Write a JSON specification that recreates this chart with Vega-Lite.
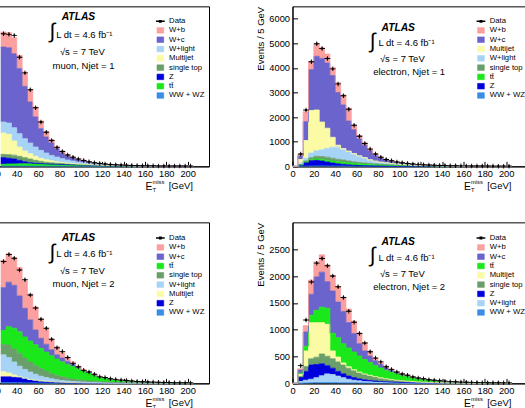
{
  "$schema": "https://vega.github.io/schema/vega-lite/v6.json",
  "usermeta": {"embedOptions": {"actions": false}},
  "background": "white",
  "padding": {"left": -64, "top": 1.35, "right": -2, "bottom": -3},
  "config": {
    "font": "Liberation Sans",
    "view": {"stroke": "black", "strokeWidth": 1},
    "axis": {"labelFont": "Liberation Sans", "labelFontSize": 9.3, "labelColor": "black", "tickColor": "black", "domainColor": "black", "grid": false, "tickSize": -5, "labelPadding": 8, "titleFont": "Liberation Sans", "titleFontSize": 9.5, "titleFontWeight": "normal", "titleColor": "black", "titlePadding": 3.7, "labelOverlap": false, "labelFlush": false, "zindex": 1},
    "legend": {"labelFont": "Liberation Sans", "labelFontSize": 7.7, "labelColor": "black", "symbolSize": 34, "symbolStrokeColor": "black", "symbolStrokeWidth": 0.6, "rowPadding": 0.3, "labelOffset": 4.9, "symbolType": "M-1.15,-0.95H1.15V0.95H-1.15Z", "symbolOpacity": 1},
    "area": {"opacity": 1, "fillOpacity": 1},
    "text": {"font": "Liberation Sans", "color": "black"}
  },
  "datasets": {
    "mu1": [
      {"x":25,"wz":10,"tt":80,"z":290,"st":145,"mj":933,"wl":482,"wc":3280,"wb":657,"d":5800},
      {"x":30,"wz":11,"tt":90,"z":250,"st":160,"mj":889,"wl":495,"wc":3295,"wb":660,"d":5775},
      {"x":35,"wz":11,"tt":95,"z":214,"st":170,"mj":618,"wl":582,"wc":3240,"wb":700,"d":5730},
      {"x":40,"wz":11,"tt":98,"z":151,"st":177,"mj":409,"wl":584,"wc":2846,"wb":580,"d":4770},
      {"x":45,"wz":10,"tt":100,"z":90,"st":180,"mj":291,"wl":539,"wc":2290,"wb":627,"d":4090},
      {"x":50,"wz":10,"tt":100,"z":50,"st":161,"mj":233,"wl":466,"wc":1795,"wb":539,"d":3350},
      {"x":55,"wz":9,"tt":98,"z":23,"st":132,"mj":175,"wl":409,"wc":1314,"wb":436,"d":2560},
      {"x":60,"wz":8,"tt":95,"z":17,"st":100,"mj":130,"wl":350,"wc":950,"wb":333,"d":1940},
      {"x":65,"wz":8,"tt":90,"z":12,"st":70,"mj":112,"wl":291,"wc":700,"wb":248,"d":1490},
      {"x":70,"wz":7,"tt":85,"z":10,"st":55,"mj":83,"wl":240,"wc":540,"wb":147,"d":1130},
      {"x":75,"wz":6,"tt":80,"z":8,"st":46,"mj":60,"wl":208,"wc":365,"wb":102,"d":830},
      {"x":80,"wz":6,"tt":75,"z":6,"st":38,"mj":45,"wl":165,"wc":248,"wb":88,"d":650},
      {"x":85,"wz":5,"tt":68,"z":5,"st":32,"mj":35,"wl":132,"wc":175,"wb":58,"d":500},
      {"x":90,"wz":5,"tt":62,"z":4,"st":27,"mj":27,"wl":108,"wc":132,"wb":43,"d":400},
      {"x":95,"wz":4,"tt":56,"z":3,"st":23,"mj":20,"wl":84,"wc":100,"wb":31,"d":320},
      {"x":100,"wz":4,"tt":50,"z":3,"st":20,"mj":16,"wl":67,"wc":78,"wb":24,"d":260},
      {"x":105,"wz":3,"tt":45,"z":2,"st":17,"mj":12,"wl":51,"wc":56,"wb":18,"d":200},
      {"x":110,"wz":3,"tt":40,"z":2,"st":14,"mj":9,"wl":40,"wc":42,"wb":13,"d":160},
      {"x":115,"wz":3,"tt":35,"z":2,"st":12,"mj":7,"wl":30,"wc":31,"wb":10,"d":128},
      {"x":120,"wz":2,"tt":31,"z":1,"st":10,"mj":5,"wl":25,"wc":24,"wb":7,"d":103},
      {"x":125,"wz":2,"tt":27,"z":1,"st":9,"mj":4,"wl":20,"wc":17,"wb":5,"d":84},
      {"x":130,"wz":2,"tt":24,"z":1,"st":8,"mj":3,"wl":16,"wc":12,"wb":4,"d":70},
      {"x":135,"wz":2,"tt":21,"z":1,"st":7,"mj":2,"wl":13,"wc":9,"wb":3,"d":57},
      {"x":140,"wz":1,"tt":18,"z":1,"st":6,"mj":2,"wl":11,"wc":7,"wb":2,"d":47},
      {"x":145,"wz":1,"tt":16,"z":1,"st":5,"mj":1,"wl":9,"wc":5,"wb":2,"d":40},
      {"x":150,"wz":1,"tt":14,"z":0,"st":4,"mj":1,"wl":8,"wc":4,"wb":2,"d":33},
      {"x":155,"wz":1,"tt":12,"z":0,"st":4,"mj":1,"wl":6,"wc":3,"wb":2,"d":29},
      {"x":160,"wz":1,"tt":10,"z":0,"st":3,"mj":1,"wl":5,"wc":3,"wb":2,"d":25},
      {"x":165,"wz":1,"tt":9,"z":0,"st":3,"mj":0,"wl":5,"wc":2,"wb":2,"d":22},
      {"x":170,"wz":1,"tt":8,"z":0,"st":2,"mj":0,"wl":4,"wc":2,"wb":2,"d":19},
      {"x":175,"wz":0,"tt":7,"z":0,"st":2,"mj":0,"wl":4,"wc":2,"wb":2,"d":17},
      {"x":180,"wz":0,"tt":6,"z":0,"st":2,"mj":0,"wl":3,"wc":2,"wb":2,"d":15},
      {"x":185,"wz":0,"tt":5,"z":0,"st":2,"mj":0,"wl":3,"wc":2,"wb":1,"d":13},
      {"x":190,"wz":0,"tt":5,"z":0,"st":1,"mj":0,"wl":3,"wc":2,"wb":1,"d":12},
      {"x":195,"wz":0,"tt":4,"z":0,"st":1,"mj":0,"wl":3,"wc":2,"wb":1,"d":11},
      {"x":200,"wz":0,"tt":4,"z":0,"st":1,"mj":0,"wl":2,"wc":2,"wb":1,"d":10},
      {"x":205,"wz":0,"tt":0,"z":0,"st":0,"mj":0,"wl":0,"wc":0,"wb":0}
    ],
    "e1": [
      {"x":0,"wz":0,"z":0,"tt":0,"st":0,"wl":0,"mj":0,"wc":0,"wb":0},
      {"x":5,"wz":3,"z":50,"tt":5,"st":10,"wl":60,"mj":150,"wc":140,"wb":62,"d":500},
      {"x":10,"wz":8,"z":150,"tt":20,"st":40,"wl":112,"mj":720,"wc":765,"wb":405,"d":2290},
      {"x":15,"wz":12,"z":220,"tt":40,"st":80,"wl":188,"mj":1730,"wc":1660,"wb":330,"d":4250},
      {"x":20,"wz":14,"z":230,"tt":55,"st":110,"wl":221,"mj":1660,"wc":2180,"wb":495,"d":4980},
      {"x":25,"wz":15,"z":200,"tt":65,"st":120,"wl":270,"mj":1130,"wc":2585,"wb":430,"d":4790},
      {"x":30,"wz":15,"z":160,"tt":75,"st":120,"wl":360,"mj":820,"wc":2645,"wb":365,"d":4380},
      {"x":35,"wz":14,"z":120,"tt":80,"st":115,"wl":451,"mj":400,"wc":2510,"wb":320,"d":3960},
      {"x":40,"wz":13,"z":90,"tt":80,"st":105,"wl":492,"mj":80,"wc":2140,"wb":400,"d":3350},
      {"x":45,"wz":12,"z":70,"tt":80,"st":95,"wl":413,"mj":50,"wc":1775,"wb":405,"d":2870},
      {"x":50,"wz":10,"z":50,"tt":78,"st":80,"wl":362,"mj":40,"wc":1220,"wb":530,"d":2320},
      {"x":55,"wz":9,"z":35,"tt":75,"st":65,"wl":296,"mj":40,"wc":970,"wb":190,"d":1670},
      {"x":60,"wz":8,"z":25,"tt":70,"st":55,"wl":242,"mj":30,"wc":680,"wb":150,"d":1220},
      {"x":65,"wz":7,"z":20,"tt":65,"st":45,"wl":193,"mj":25,"wc":505,"wb":100,"d":930},
      {"x":70,"wz":6,"z":15,"tt":60,"st":38,"wl":131,"mj":20,"wc":360,"wb":100,"d":700},
      {"x":75,"wz":5,"z":10,"tt":55,"st":30,"wl":100,"mj":15,"wc":240,"wb":45,"d":500},
      {"x":80,"wz":5,"z":8,"tt":50,"st":25,"wl":72,"mj":12,"wc":178,"wb":30,"d":370},
      {"x":85,"wz":4,"z":6,"tt":45,"st":20,"wl":60,"mj":10,"wc":115,"wb":30,"d":280},
      {"x":90,"wz":4,"z":5,"tt":40,"st":17,"wl":45,"mj":8,"wc":85,"wb":26,"d":225},
      {"x":95,"wz":3,"z":4,"tt":36,"st":14,"wl":35,"mj":6,"wc":62,"wb":20,"d":175},
      {"x":100,"wz":3,"z":3,"tt":32,"st":12,"wl":28,"mj":5,"wc":50,"wb":17,"d":145},
      {"x":105,"wz":3,"z":3,"tt":28,"st":10,"wl":22,"mj":4,"wc":38,"wb":12,"d":115},
      {"x":110,"wz":2,"z":2,"tt":25,"st":8,"wl":17,"mj":3,"wc":29,"wb":9,"d":95},
      {"x":115,"wz":2,"z":2,"tt":22,"st":7,"wl":14,"mj":2,"wc":22,"wb":7,"d":80},
      {"x":120,"wz":2,"z":2,"tt":19,"st":6,"wl":11,"mj":2,"wc":17,"wb":5,"d":62},
      {"x":125,"wz":2,"z":1,"tt":17,"st":5,"wl":9,"mj":2,"wc":13,"wb":4,"d":52},
      {"x":130,"wz":1,"z":1,"tt":15,"st":4,"wl":8,"mj":1,"wc":11,"wb":4,"d":46},
      {"x":135,"wz":1,"z":1,"tt":13,"st":4,"wl":6,"mj":1,"wc":9,"wb":3,"d":37},
      {"x":140,"wz":1,"z":1,"tt":11,"st":3,"wl":5,"mj":1,"wc":8,"wb":2,"d":33},
      {"x":145,"wz":1,"z":1,"tt":10,"st":3,"wl":4,"mj":1,"wc":6,"wb":2,"d":27},
      {"x":150,"wz":1,"z":1,"tt":9,"st":2,"wl":4,"mj":0,"wc":5,"wb":2,"d":25},
      {"x":155,"wz":1,"z":0,"tt":8,"st":2,"wl":3,"mj":0,"wc":5,"wb":2,"d":20},
      {"x":160,"wz":1,"z":0,"tt":7,"st":2,"wl":3,"mj":0,"wc":4,"wb":1,"d":19},
      {"x":165,"wz":0,"z":0,"tt":6,"st":2,"wl":3,"mj":0,"wc":4,"wb":1,"d":15},
      {"x":170,"wz":0,"z":0,"tt":5,"st":2,"wl":2,"mj":0,"wc":4,"wb":1,"d":14},
      {"x":175,"wz":0,"z":0,"tt":5,"st":1,"wl":2,"mj":0,"wc":3,"wb":1,"d":12},
      {"x":180,"wz":0,"z":0,"tt":4,"st":1,"wl":2,"mj":0,"wc":3,"wb":1,"d":11},
      {"x":185,"wz":0,"z":0,"tt":4,"st":1,"wl":2,"mj":0,"wc":2,"wb":1,"d":10},
      {"x":190,"wz":0,"z":0,"tt":3,"st":1,"wl":2,"mj":0,"wc":2,"wb":1,"d":9},
      {"x":195,"wz":0,"z":0,"tt":3,"st":1,"wl":1,"mj":0,"wc":2,"wb":1,"d":8},
      {"x":200,"wz":0,"z":0,"tt":3,"st":1,"wl":1,"mj":0,"wc":2,"wb":1,"d":8},
      {"x":205,"wz":0,"z":0,"tt":0,"st":0,"wl":0,"mj":0,"wc":0,"wb":0}
    ],
    "mu2": [
      {"x":25,"wz":12,"z":129,"mj":112,"wl":366,"st":226,"tt":305,"wc":930,"wb":595,"d":2647},
      {"x":30,"wz":12,"z":129,"mj":84,"wl":338,"st":268,"tt":399,"wc":970,"wb":616,"d":2802},
      {"x":35,"wz":12,"z":118,"mj":53,"wl":282,"st":281,"tt":454,"wc":930,"wb":601,"d":2720},
      {"x":40,"wz":11,"z":116,"mj":14,"wl":232,"st":282,"tt":465,"wc":780,"wb":620,"d":2464},
      {"x":45,"wz":10,"z":89,"mj":14,"wl":190,"st":246,"tt":461,"wc":620,"wb":594,"d":2252},
      {"x":50,"wz":9,"z":61,"mj":15,"wl":161,"st":219,"tt":455,"wc":460,"wb":563,"d":1922},
      {"x":55,"wz":8,"z":48,"mj":14,"wl":127,"st":197,"tt":446,"wc":320,"wb":501,"d":1640},
      {"x":60,"wz":7,"z":35,"mj":13,"wl":100,"st":169,"tt":436,"wc":220,"wb":428,"d":1394},
      {"x":65,"wz":6,"z":29,"mj":10,"wl":82,"st":140,"tt":413,"wc":170,"wb":333,"d":1197},
      {"x":70,"wz":5,"z":23,"mj":8,"wl":63,"st":112,"tt":389,"wc":130,"wb":227,"d":957},
      {"x":75,"wz":5,"z":17,"mj":7,"wl":48,"st":92,"tt":361,"wc":90,"wb":175,"d":774},
      {"x":80,"wz":4,"z":14,"mj":6,"wl":39,"st":78,"tt":329,"wc":80,"wb":126,"d":690},
      {"x":85,"wz":4,"z":11,"mj":5,"wl":32,"st":61,"tt":302,"wc":65,"wb":83,"d":563},
      {"x":90,"wz":3,"z":9,"mj":4,"wl":27,"st":49,"tt":273,"wc":50,"wb":50,"d":429},
      {"x":95,"wz":3,"z":7,"mj":3,"wl":22,"st":41,"tt":244,"wc":30,"wb":23,"d":359},
      {"x":100,"wz":2,"z":6,"mj":3,"wl":18,"st":34,"tt":207,"wc":20,"wb":13,"d":282},
      {"x":105,"wz":2,"z":5,"mj":2,"wl":15,"st":28,"tt":173,"wc":15,"wb":13,"d":246},
      {"x":110,"wz":2,"z":4,"mj":2,"wl":12,"st":23,"tt":137,"wc":10,"wb":7,"d":197},
      {"x":115,"wz":2,"z":3,"mj":2,"wl":10,"st":19,"tt":107,"wc":7,"wb":5,"d":141},
      {"x":120,"wz":1,"z":3,"mj":2,"wl":8,"st":16,"tt":86,"wc":5,"wb":4,"d":125},
      {"x":125,"wz":1,"z":3,"mj":1,"wl":7,"st":13,"tt":70,"wc":4,"wb":3,"d":100},
      {"x":130,"wz":1,"z":2,"mj":1,"wl":6,"st":11,"tt":58,"wc":3,"wb":3,"d":86},
      {"x":135,"wz":1,"z":2,"mj":1,"wl":5,"st":9,"tt":48,"wc":3,"wb":3,"d":70},
      {"x":140,"wz":1,"z":1,"mj":1,"wl":4,"st":8,"tt":40,"wc":3,"wb":2,"d":61},
      {"x":145,"wz":1,"z":1,"mj":1,"wl":3,"st":7,"tt":33,"wc":2,"wb":2,"d":49},
      {"x":150,"wz":1,"z":1,"mj":0,"wl":3,"st":6,"tt":27,"wc":2,"wb":2,"d":42},
      {"x":155,"wz":1,"z":0,"mj":1,"wl":2,"st":5,"tt":23,"wc":2,"wb":1,"d":36},
      {"x":160,"wz":1,"z":0,"mj":1,"wl":2,"st":4,"tt":19,"wc":2,"wb":1,"d":29},
      {"x":165,"wz":1,"z":0,"mj":0,"wl":2,"st":4,"tt":16,"wc":2,"wb":1,"d":27},
      {"x":170,"wz":1,"z":0,"mj":0,"wl":2,"st":3,"tt":14,"wc":1,"wb":1,"d":22},
      {"x":175,"wz":1,"z":0,"mj":0,"wl":1,"st":3,"tt":12,"wc":1,"wb":1,"d":18},
      {"x":180,"wz":1,"z":0,"mj":0,"wl":1,"st":2,"tt":10,"wc":1,"wb":1,"d":17},
      {"x":185,"wz":0,"z":0,"mj":0,"wl":2,"st":2,"tt":8,"wc":1,"wb":1,"d":14},
      {"x":190,"wz":0,"z":0,"mj":0,"wl":1,"st":2,"tt":7,"wc":1,"wb":1,"d":12},
      {"x":195,"wz":0,"z":0,"mj":0,"wl":1,"st":2,"tt":6,"wc":1,"wb":1,"d":11},
      {"x":200,"wz":0,"z":0,"mj":0,"wl":1,"st":1,"tt":6,"wc":1,"wb":1,"d":10},
      {"x":205,"wz":0,"z":0,"mj":0,"wl":0,"st":0,"tt":0,"wc":0,"wb":0}
    ],
    "e2": [
      {"x":0,"wz":0,"wl":0,"z":0,"st":0,"mj":0,"tt":0,"wc":0,"wb":0},
      {"x":5,"wz":3,"wl":30,"z":80,"st":15,"mj":40,"tt":20,"wc":62,"wb":20,"d":330},
      {"x":10,"wz":8,"wl":50,"z":165,"st":90,"mj":290,"tt":90,"wc":263,"wb":119,"d":1180},
      {"x":15,"wz":12,"wl":64,"z":264,"st":118,"mj":672,"tt":140,"wc":390,"wb":265,"d":1890},
      {"x":20,"wz":14,"wl":92,"z":246,"st":135,"mj":643,"tt":230,"wc":623,"wb":282,"d":2240},
      {"x":25,"wz":15,"wl":126,"z":223,"st":182,"mj":584,"tt":290,"wc":651,"wb":324,"d":2325},
      {"x":30,"wz":15,"wl":161,"z":153,"st":176,"mj":595,"tt":300,"wc":495,"wb":311,"d":2190},
      {"x":35,"wz":14,"wl":150,"z":118,"st":176,"mj":146,"tt":330,"wc":785,"wb":293,"d":2000},
      {"x":40,"wz":13,"wl":122,"z":88,"st":176,"mj":91,"tt":360,"wc":664,"wb":293,"d":1800},
      {"x":45,"wz":12,"wl":94,"z":70,"st":164,"mj":40,"tt":360,"wc":598,"wb":262,"d":1600},
      {"x":50,"wz":11,"wl":65,"z":59,"st":147,"mj":28,"tt":350,"wc":472,"wb":253,"d":1345},
      {"x":55,"wz":10,"wl":49,"z":47,"st":129,"mj":20,"tt":330,"wc":342,"wb":233,"d":1140},
      {"x":60,"wz":9,"wl":38,"z":35,"st":112,"mj":16,"tt":300,"wc":229,"wb":201,"d":930},
      {"x":65,"wz":8,"wl":27,"z":30,"st":99,"mj":11,"tt":270,"wc":159,"wb":158,"d":750},
      {"x":70,"wz":7,"wl":22,"z":25,"st":87,"mj":9,"tt":240,"wc":120,"wb":90,"d":590},
      {"x":75,"wz":6,"wl":18,"z":20,"st":73,"mj":8,"tt":210,"wc":85,"wb":60,"d":470},
      {"x":80,"wz":5,"wl":15,"z":16,"st":60,"mj":6,"tt":185,"wc":63,"wb":40,"d":400},
      {"x":85,"wz":5,"wl":12,"z":13,"st":50,"mj":5,"tt":160,"wc":45,"wb":30,"d":310},
      {"x":90,"wz":4,"wl":10,"z":10,"st":42,"mj":4,"tt":140,"wc":33,"wb":22,"d":260},
      {"x":95,"wz":4,"wl":8,"z":8,"st":35,"mj":3,"tt":120,"wc":23,"wb":14,"d":210},
      {"x":100,"wz":3,"wl":7,"z":6,"st":29,"mj":3,"tt":105,"wc":17,"wb":10,"d":175},
      {"x":105,"wz":3,"wl":6,"z":5,"st":24,"mj":2,"tt":90,"wc":13,"wb":7,"d":150},
      {"x":110,"wz":2,"wl":5,"z":4,"st":20,"mj":2,"tt":78,"wc":9,"wb":5,"d":120},
      {"x":115,"wz":2,"wl":4,"z":3,"st":16,"mj":1,"tt":66,"wc":5,"wb":3,"d":98},
      {"x":120,"wz":2,"wl":3,"z":2,"st":13,"mj":1,"tt":57,"wc":4,"wb":3,"d":84},
      {"x":125,"wz":2,"wl":3,"z":2,"st":10,"mj":1,"tt":48,"wc":3,"wb":1,"d":68},
      {"x":130,"wz":1,"wl":2,"z":2,"st":8,"mj":0,"tt":41,"wc":3,"wb":1,"d":57},
      {"x":135,"wz":1,"wl":2,"z":1,"st":7,"mj":0,"tt":35,"wc":1,"wb":1,"d":47},
      {"x":140,"wz":1,"wl":1,"z":1,"st":5,"mj":0,"tt":30,"wc":1,"wb":1,"d":41},
      {"x":145,"wz":1,"wl":1,"z":1,"st":4,"mj":0,"tt":25,"wc":1,"wb":0,"d":32},
      {"x":150,"wz":1,"wl":1,"z":0,"st":4,"mj":0,"tt":21,"wc":1,"wb":0,"d":29},
      {"x":155,"wz":1,"wl":1,"z":0,"st":3,"mj":0,"tt":18,"wc":1,"wb":0,"d":23},
      {"x":160,"wz":0,"wl":1,"z":0,"st":3,"mj":0,"tt":15,"wc":1,"wb":1,"d":21},
      {"x":165,"wz":0,"wl":1,"z":0,"st":2,"mj":0,"tt":13,"wc":1,"wb":1,"d":18},
      {"x":170,"wz":0,"wl":1,"z":0,"st":2,"mj":0,"tt":11,"wc":1,"wb":1,"d":16},
      {"x":175,"wz":0,"wl":1,"z":0,"st":2,"mj":0,"tt":9,"wc":1,"wb":1,"d":13},
      {"x":180,"wz":0,"wl":0,"z":0,"st":2,"mj":0,"tt":8,"wc":1,"wb":1,"d":12},
      {"x":185,"wz":0,"wl":0,"z":0,"st":2,"mj":0,"tt":7,"wc":1,"wb":1,"d":11},
      {"x":190,"wz":0,"wl":0,"z":0,"st":2,"mj":0,"tt":6,"wc":1,"wb":1,"d":10},
      {"x":195,"wz":0,"wl":0,"z":0,"st":2,"mj":0,"tt":5,"wc":1,"wb":1,"d":9},
      {"x":200,"wz":0,"wl":0,"z":0,"st":2,"mj":0,"tt":5,"wc":1,"wb":1,"d":9},
      {"x":205,"wz":0,"wl":0,"z":0,"st":0,"mj":0,"tt":0,"wc":0,"wb":0}
    ]
  },
  "resolve": {"scale": {"color": "independent", "shape": "independent"}},
  "spacing": 27,
  "vconcat": [
    {
      "spacing": 44.5,
      "resolve": {"scale": {"color": "independent", "shape": "independent"}},
      "hconcat": [
        {
          "width": 235, "height": 160,
          "data": {"name": "mu1"},
          "layer": [
            {
              "transform": [
                {"fold": ["wz","tt","z","st","mj","wl","wc","wb"], "as": ["k","n"]},
                {"calculate": "indexof(['wz','tt','z','st','mj','wl','wc','wb'], datum.k)", "as": "o"}
              ],
              "mark": {"type": "area", "interpolate": "step-after", "opacity": 1, "fillOpacity": 1, "line": {"color": "#1a1a1a", "strokeWidth": 0.8}},
              "encoding": {
                "x": {"field": "x", "type": "quantitative", "scale": {"domain": [0, 205]}, "axis": {"values": [0,20,40,60,80,100,120,140,160,180,200], "tickCount": 20, "labelOverlap": false, "title": null}},
                "y": {"field": "n", "type": "quantitative", "stack": "zero", "scale": {"domain": [0, 7000]}, "axis": {"values": [0,1000,2000,3000,4000,5000,6000,7000], "tickCount": 20, "labelOverlap": false, "format": "d", "title": "Events / 5 GeV", "titleAnchor": "end"}},
                "color": {"field": "k", "type": "nominal",
                  "scale": {"domain": ["wb","wc","wl","mj","st","z","tt","wz"], "range": ["#fb9f9f","#6a64cc","#a7d3f6","#fbfba6","#6a9e6a","#0000dc","#1be81b","#3a8ee6"]},
                  "legend": {"orient": "none", "legendX": 182.5, "legendY": 20.2, "title": null,
                    "labelExpr": "datum.value=='wb'?'W+b':datum.value=='wc'?'W+c':datum.value=='wl'?'W+light':datum.value=='mj'?'Multijet':datum.value=='st'?'single top':datum.value=='z'?'Z':datum.value=='tt'?'tt̄':'WW + WZ'"}},
                "order": {"field": "o", "type": "quantitative"}
              }
            },
            {"transform": [{"filter": "isValid(datum.d)"}], "mark": {"type": "tick", "orient": "vertical", "size": 4.5, "thickness": 0.9, "color": "black", "opacity": 1, "xOffset": 2.87}, "encoding": {"x": {"field": "x", "type": "quantitative"}, "y": {"field": "d", "type": "quantitative"}}},
            {"transform": [{"filter": "isValid(datum.d)"}], "mark": {"type": "point", "filled": true, "size": 14.4, "strokeWidth": 0, "color": "black", "opacity": 1, "xOffset": 2.87},
             "encoding": {"x": {"field": "x", "type": "quantitative"}, "y": {"field": "d", "type": "quantitative"},
               "shape": {"datum": "Data", "scale": {"domain": ["Data"], "range": ["M-1.5,-0.25H-0.5V-0.5H0.5V-0.25H1.5V0.25H0.5V0.5H-0.5V0.25H-1.5Z"]},
                 "legend": {"orient": "none", "legendX": 182.5, "legendY": 11.15, "title": null, "symbolSize": 34, "symbolStrokeWidth": 0, "symbolFillColor": "black", "symbolOpacity": 1}}}},
            {"data": {"values": [{}]}, "mark": {"type": "text", "text": "ATLAS", "align": "left", "baseline": "alphabetic", "fontSize": 10.3, "fontWeight": "bold", "fontStyle": "italic"}, "encoding": {"x": {"datum": 82.1}, "y": {"datum": 6418}}},
            {"data": {"values": [{}]}, "mark": {"type": "text", "text": "∫", "align": "center", "baseline": "middle", "fontSize": 21}, "encoding": {"x": {"datum": 73.4}, "y": {"datum": 5862}}},
            {"data": {"values": [{}]}, "mark": {"type": "text", "text": "L dt = 4.6 fb⁻¹", "align": "left", "baseline": "alphabetic", "fontSize": 9.5}, "encoding": {"x": {"datum": 76.9}, "y": {"datum": 5630}}},
            {"data": {"values": [{}]}, "mark": {"type": "text", "text": "√s = 7 TeV", "align": "left", "baseline": "alphabetic", "fontSize": 9.5}, "encoding": {"x": {"datum": 80.4}, "y": {"datum": 4887}}},
            {"data": {"values": [{}]}, "mark": {"type": "text", "text": "muon, Njet = 1", "align": "left", "baseline": "alphabetic", "fontSize": 9.5}, "encoding": {"x": {"datum": 73.6}, "y": {"datum": 4274}}},
            {"data": {"values": [{}]}, "mark": {"type": "text", "text": "E", "align": "right", "baseline": "alphabetic", "fontSize": 10.3, "dx": -40.7, "dy": 23.3}, "encoding": {"x": {"datum": 205}, "y": {"datum": 0}}},
            {"data": {"values": [{}]}, "mark": {"type": "text", "text": "miss", "align": "left", "baseline": "alphabetic", "fontSize": 5.8, "dx": -40.5, "dy": 18}, "encoding": {"x": {"datum": 205}, "y": {"datum": 0}}},
            {"data": {"values": [{}]}, "mark": {"type": "text", "text": "T", "align": "left", "baseline": "alphabetic", "fontSize": 5.8, "dx": -40.5, "dy": 25.8}, "encoding": {"x": {"datum": 205}, "y": {"datum": 0}}},
            {"data": {"values": [{}]}, "mark": {"type": "text", "text": "[GeV]", "align": "right", "baseline": "alphabetic", "fontSize": 9.5, "dy": 23}, "encoding": {"x": {"datum": 205}, "y": {"datum": 0}}}
          ]
        },
        {
          "width": 235, "height": 160,
          "data": {"name": "e1"},
          "layer": [
            {
              "transform": [
                {"fold": ["wz","z","tt","st","wl","mj","wc","wb"], "as": ["k","n"]},
                {"calculate": "indexof(['wz','z','tt','st','wl','mj','wc','wb'], datum.k)", "as": "o"}
              ],
              "mark": {"type": "area", "interpolate": "step-after", "opacity": 1, "fillOpacity": 1, "line": {"color": "#1a1a1a", "strokeWidth": 0.8}},
              "encoding": {
                "x": {"field": "x", "type": "quantitative", "scale": {"domain": [0, 205]}, "axis": {"values": [0,20,40,60,80,100,120,140,160,180,200], "tickCount": 20, "labelOverlap": false, "title": null}},
                "y": {"field": "n", "type": "quantitative", "stack": "zero", "scale": {"domain": [0, 6050]}, "axis": {"values": [0,1000,2000,3000,4000,5000,6000], "tickCount": 20, "labelOverlap": false, "format": "d", "title": "Events / 5 GeV", "titleAnchor": "end"}},
                "color": {"field": "k", "type": "nominal",
                  "scale": {"domain": ["wb","wc","mj","wl","st","tt","z","wz"], "range": ["#fb9f9f","#6a64cc","#fbfba6","#a7d3f6","#6a9e6a","#1be81b","#0000dc","#3a8ee6"]},
                  "legend": {"orient": "none", "legendX": 184.6, "legendY": 20.2, "title": null,
                    "labelExpr": "datum.value=='wb'?'W+b':datum.value=='wc'?'W+c':datum.value=='wl'?'W+light':datum.value=='mj'?'Multijet':datum.value=='st'?'single top':datum.value=='z'?'Z':datum.value=='tt'?'tt̄':'WW + WZ'"}},
                "order": {"field": "o", "type": "quantitative"}
              }
            },
            {"transform": [{"filter": "isValid(datum.d)"}], "mark": {"type": "tick", "orient": "vertical", "size": 4.5, "thickness": 0.9, "color": "black", "opacity": 1, "xOffset": 2.87}, "encoding": {"x": {"field": "x", "type": "quantitative"}, "y": {"field": "d", "type": "quantitative"}}},
            {"transform": [{"filter": "isValid(datum.d)"}], "mark": {"type": "point", "filled": true, "size": 14.4, "strokeWidth": 0, "color": "black", "opacity": 1, "xOffset": 2.87},
             "encoding": {"x": {"field": "x", "type": "quantitative"}, "y": {"field": "d", "type": "quantitative"},
               "shape": {"datum": "Data", "scale": {"domain": ["Data"], "range": ["M-1.5,-0.25H-0.5V-0.5H0.5V-0.25H1.5V0.25H0.5V0.5H-0.5V0.25H-1.5Z"]},
                 "legend": {"orient": "none", "legendX": 184.6, "legendY": 11.15, "title": null, "symbolSize": 34, "symbolStrokeWidth": 0, "symbolFillColor": "black", "symbolOpacity": 1}}}},
            {"data": {"values": [{}]}, "mark": {"type": "text", "text": "ATLAS", "align": "left", "baseline": "alphabetic", "fontSize": 10.3, "fontWeight": "bold", "fontStyle": "italic"}, "encoding": {"x": {"datum": 83.3}, "y": {"datum": 5509}}},
            {"data": {"values": [{}]}, "mark": {"type": "text", "text": "∫", "align": "center", "baseline": "middle", "fontSize": 21}, "encoding": {"x": {"datum": 75.0}, "y": {"datum": 5048}}},
            {"data": {"values": [{}]}, "mark": {"type": "text", "text": "L dt = 4.6 fb⁻¹", "align": "left", "baseline": "alphabetic", "fontSize": 9.5}, "encoding": {"x": {"datum": 80.5}, "y": {"datum": 4890}}},
            {"data": {"values": [{}]}, "mark": {"type": "text", "text": "√s = 7 TeV", "align": "left", "baseline": "alphabetic", "fontSize": 9.5}, "encoding": {"x": {"datum": 81.8}, "y": {"datum": 4235}}},
            {"data": {"values": [{}]}, "mark": {"type": "text", "text": "electron, Njet = 1", "align": "left", "baseline": "alphabetic", "fontSize": 9.5}, "encoding": {"x": {"datum": 75.5}, "y": {"datum": 3693}}},
            {"data": {"values": [{}]}, "mark": {"type": "text", "text": "E", "align": "right", "baseline": "alphabetic", "fontSize": 10.3, "dx": -40.7, "dy": 23.3}, "encoding": {"x": {"datum": 205}, "y": {"datum": 0}}},
            {"data": {"values": [{}]}, "mark": {"type": "text", "text": "miss", "align": "left", "baseline": "alphabetic", "fontSize": 5.8, "dx": -40.5, "dy": 18}, "encoding": {"x": {"datum": 205}, "y": {"datum": 0}}},
            {"data": {"values": [{}]}, "mark": {"type": "text", "text": "T", "align": "left", "baseline": "alphabetic", "fontSize": 5.8, "dx": -40.5, "dy": 25.8}, "encoding": {"x": {"datum": 205}, "y": {"datum": 0}}},
            {"data": {"values": [{}]}, "mark": {"type": "text", "text": "[GeV]", "align": "right", "baseline": "alphabetic", "fontSize": 9.5, "dy": 23}, "encoding": {"x": {"datum": 205}, "y": {"datum": 0}}}
          ]
        }
      ]
    },
    {
      "spacing": 44.5,
      "resolve": {"scale": {"color": "independent", "shape": "independent"}},
      "hconcat": [
        {
          "width": 235, "height": 161,
          "data": {"name": "mu2"},
          "layer": [
            {
              "transform": [
                {"fold": ["wz","z","mj","wl","st","tt","wc","wb"], "as": ["k","n"]},
                {"calculate": "indexof(['wz','z','mj','wl','st','tt','wc','wb'], datum.k)", "as": "o"}
              ],
              "mark": {"type": "area", "interpolate": "step-after", "opacity": 1, "fillOpacity": 1, "line": {"color": "#1a1a1a", "strokeWidth": 0.8}},
              "encoding": {
                "x": {"field": "x", "type": "quantitative", "scale": {"domain": [0, 205]}, "axis": {"values": [0,20,40,60,80,100,120,140,160,180,200], "tickCount": 20, "labelOverlap": false, "title": null}},
                "y": {"field": "n", "type": "quantitative", "stack": "zero", "scale": {"domain": [0, 3400]}, "axis": {"values": [0,500,1000,1500,2000,2500,3000], "tickCount": 20, "labelOverlap": false, "format": "d", "title": "Events / 5 GeV", "titleAnchor": "end"}},
                "color": {"field": "k", "type": "nominal",
                  "scale": {"domain": ["wb","wc","tt","st","wl","mj","z","wz"], "range": ["#fb9f9f","#6a64cc","#1be81b","#6a9e6a","#a7d3f6","#fbfba6","#0000dc","#3a8ee6"]},
                  "legend": {"orient": "none", "legendX": 182.5, "legendY": 21.2, "title": null,
                    "labelExpr": "datum.value=='wb'?'W+b':datum.value=='wc'?'W+c':datum.value=='wl'?'W+light':datum.value=='mj'?'Multijet':datum.value=='st'?'single top':datum.value=='z'?'Z':datum.value=='tt'?'tt̄':'WW + WZ'"}},
                "order": {"field": "o", "type": "quantitative"}
              }
            },
            {"transform": [{"filter": "isValid(datum.d)"}], "mark": {"type": "tick", "orient": "vertical", "size": 4.5, "thickness": 0.9, "color": "black", "opacity": 1, "xOffset": 2.87}, "encoding": {"x": {"field": "x", "type": "quantitative"}, "y": {"field": "d", "type": "quantitative"}}},
            {"transform": [{"filter": "isValid(datum.d)"}], "mark": {"type": "point", "filled": true, "size": 14.4, "strokeWidth": 0, "color": "black", "opacity": 1, "xOffset": 2.87},
             "encoding": {"x": {"field": "x", "type": "quantitative"}, "y": {"field": "d", "type": "quantitative"},
               "shape": {"datum": "Data", "scale": {"domain": ["Data"], "range": ["M-1.5,-0.25H-0.5V-0.5H0.5V-0.25H1.5V0.25H0.5V0.5H-0.5V0.25H-1.5Z"]},
                 "legend": {"orient": "none", "legendX": 182.5, "legendY": 11.75, "title": null, "symbolSize": 34, "symbolStrokeWidth": 0, "symbolFillColor": "black", "symbolOpacity": 1}}}},
            {"data": {"values": [{}]}, "mark": {"type": "text", "text": "ATLAS", "align": "left", "baseline": "alphabetic", "fontSize": 10.3, "fontWeight": "bold", "fontStyle": "italic"}, "encoding": {"x": {"datum": 82.1}, "y": {"datum": 3090}}},
            {"data": {"values": [{}]}, "mark": {"type": "text", "text": "∫", "align": "center", "baseline": "middle", "fontSize": 21}, "encoding": {"x": {"datum": 73.4}, "y": {"datum": 2840}}},
            {"data": {"values": [{}]}, "mark": {"type": "text", "text": "L dt = 4.6 fb⁻¹", "align": "left", "baseline": "alphabetic", "fontSize": 9.5}, "encoding": {"x": {"datum": 76.9}, "y": {"datum": 2739}}},
            {"data": {"values": [{}]}, "mark": {"type": "text", "text": "√s = 7 TeV", "align": "left", "baseline": "alphabetic", "fontSize": 9.5}, "encoding": {"x": {"datum": 80.4}, "y": {"datum": 2387}}},
            {"data": {"values": [{}]}, "mark": {"type": "text", "text": "muon, Njet = 2", "align": "left", "baseline": "alphabetic", "fontSize": 9.5}, "encoding": {"x": {"datum": 73.6}, "y": {"datum": 2084}}},
            {"data": {"values": [{}]}, "mark": {"type": "text", "text": "E", "align": "right", "baseline": "alphabetic", "fontSize": 10.3, "dx": -40.7, "dy": 23.3}, "encoding": {"x": {"datum": 205}, "y": {"datum": 0}}},
            {"data": {"values": [{}]}, "mark": {"type": "text", "text": "miss", "align": "left", "baseline": "alphabetic", "fontSize": 5.8, "dx": -40.5, "dy": 18}, "encoding": {"x": {"datum": 205}, "y": {"datum": 0}}},
            {"data": {"values": [{}]}, "mark": {"type": "text", "text": "T", "align": "left", "baseline": "alphabetic", "fontSize": 5.8, "dx": -40.5, "dy": 25.8}, "encoding": {"x": {"datum": 205}, "y": {"datum": 0}}},
            {"data": {"values": [{}]}, "mark": {"type": "text", "text": "[GeV]", "align": "right", "baseline": "alphabetic", "fontSize": 9.5, "dy": 23}, "encoding": {"x": {"datum": 205}, "y": {"datum": 0}}}
          ]
        },
        {
          "width": 235, "height": 161,
          "data": {"name": "e2"},
          "layer": [
            {
              "transform": [
                {"fold": ["wz","wl","z","st","mj","tt","wc","wb"], "as": ["k","n"]},
                {"calculate": "indexof(['wz','wl','z','st','mj','tt','wc','wb'], datum.k)", "as": "o"}
              ],
              "mark": {"type": "area", "interpolate": "step-after", "opacity": 1, "fillOpacity": 1, "line": {"color": "#1a1a1a", "strokeWidth": 0.8}},
              "encoding": {
                "x": {"field": "x", "type": "quantitative", "scale": {"domain": [0, 205]}, "axis": {"values": [0,20,40,60,80,100,120,140,160,180,200], "tickCount": 20, "labelOverlap": false, "title": null}},
                "y": {"field": "n", "type": "quantitative", "stack": "zero", "scale": {"domain": [0, 2830]}, "axis": {"values": [0,500,1000,1500,2000,2500], "tickCount": 20, "labelOverlap": false, "format": "d", "title": "Events / 5 GeV", "titleAnchor": "end"}},
                "color": {"field": "k", "type": "nominal",
                  "scale": {"domain": ["wb","wc","tt","mj","st","z","wl","wz"], "range": ["#fb9f9f","#6a64cc","#1be81b","#fbfba6","#6a9e6a","#0000dc","#a7d3f6","#3a8ee6"]},
                  "legend": {"orient": "none", "legendX": 184.6, "legendY": 21.2, "title": null,
                    "labelExpr": "datum.value=='wb'?'W+b':datum.value=='wc'?'W+c':datum.value=='wl'?'W+light':datum.value=='mj'?'Multijet':datum.value=='st'?'single top':datum.value=='z'?'Z':datum.value=='tt'?'tt̄':'WW + WZ'"}},
                "order": {"field": "o", "type": "quantitative"}
              }
            },
            {"transform": [{"filter": "isValid(datum.d)"}], "mark": {"type": "tick", "orient": "vertical", "size": 4.5, "thickness": 0.9, "color": "black", "opacity": 1, "xOffset": 2.87}, "encoding": {"x": {"field": "x", "type": "quantitative"}, "y": {"field": "d", "type": "quantitative"}}},
            {"transform": [{"filter": "isValid(datum.d)"}], "mark": {"type": "point", "filled": true, "size": 14.4, "strokeWidth": 0, "color": "black", "opacity": 1, "xOffset": 2.87},
             "encoding": {"x": {"field": "x", "type": "quantitative"}, "y": {"field": "d", "type": "quantitative"},
               "shape": {"datum": "Data", "scale": {"domain": ["Data"], "range": ["M-1.5,-0.25H-0.5V-0.5H0.5V-0.25H1.5V0.25H0.5V0.5H-0.5V0.25H-1.5Z"]},
                 "legend": {"orient": "none", "legendX": 184.6, "legendY": 11.75, "title": null, "symbolSize": 34, "symbolStrokeWidth": 0, "symbolFillColor": "black", "symbolOpacity": 1}}}},
            {"data": {"values": [{}]}, "mark": {"type": "text", "text": "ATLAS", "align": "left", "baseline": "alphabetic", "fontSize": 10.3, "fontWeight": "bold", "fontStyle": "italic"}, "encoding": {"x": {"datum": 83.3}, "y": {"datum": 2572}}},
            {"data": {"values": [{}]}, "mark": {"type": "text", "text": "∫", "align": "center", "baseline": "middle", "fontSize": 21}, "encoding": {"x": {"datum": 75.0}, "y": {"datum": 2365}}},
            {"data": {"values": [{}]}, "mark": {"type": "text", "text": "L dt = 4.6 fb⁻¹", "align": "left", "baseline": "alphabetic", "fontSize": 9.5}, "encoding": {"x": {"datum": 80.5}, "y": {"datum": 2280}}},
            {"data": {"values": [{}]}, "mark": {"type": "text", "text": "√s = 7 TeV", "align": "left", "baseline": "alphabetic", "fontSize": 9.5}, "encoding": {"x": {"datum": 81.8}, "y": {"datum": 1987}}},
            {"data": {"values": [{}]}, "mark": {"type": "text", "text": "electron, Njet = 2", "align": "left", "baseline": "alphabetic", "fontSize": 9.5}, "encoding": {"x": {"datum": 75.5}, "y": {"datum": 1735}}},
            {"data": {"values": [{}]}, "mark": {"type": "text", "text": "E", "align": "right", "baseline": "alphabetic", "fontSize": 10.3, "dx": -40.7, "dy": 23.3}, "encoding": {"x": {"datum": 205}, "y": {"datum": 0}}},
            {"data": {"values": [{}]}, "mark": {"type": "text", "text": "miss", "align": "left", "baseline": "alphabetic", "fontSize": 5.8, "dx": -40.5, "dy": 18}, "encoding": {"x": {"datum": 205}, "y": {"datum": 0}}},
            {"data": {"values": [{}]}, "mark": {"type": "text", "text": "T", "align": "left", "baseline": "alphabetic", "fontSize": 5.8, "dx": -40.5, "dy": 25.8}, "encoding": {"x": {"datum": 205}, "y": {"datum": 0}}},
            {"data": {"values": [{}]}, "mark": {"type": "text", "text": "[GeV]", "align": "right", "baseline": "alphabetic", "fontSize": 9.5, "dy": 23}, "encoding": {"x": {"datum": 205}, "y": {"datum": 0}}}
          ]
        }
      ]
    }
  ]
}
